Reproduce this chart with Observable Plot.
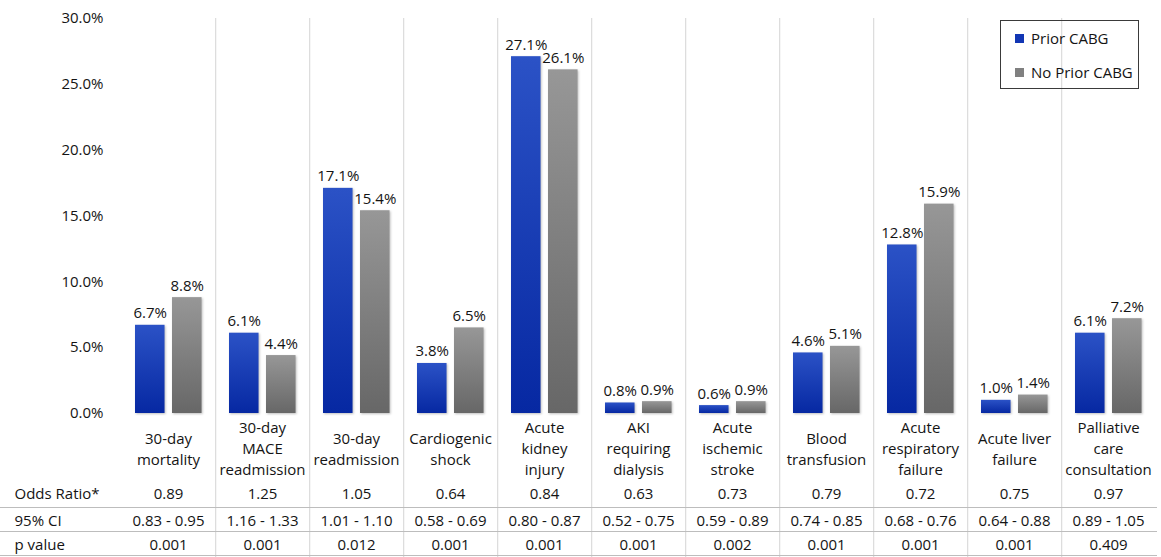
<!DOCTYPE html>
<html>
<head>
<meta charset="utf-8">
<script src="https://cdn.jsdelivr.net/npm/d3@7"></script>
<script src="https://cdn.jsdelivr.net/npm/@observablehq/plot@0.6"></script>
<style>
  body { margin: 0; background: #fff; }
  #wrap { position: relative; width: 1161px; height: 557px; font-family: "Open Sans", sans-serif; }
  #legend { position: absolute; left: 1000px; top: 20px; width: 139px; height: 69px; box-sizing: border-box;
            border: 1.5px solid #3a3a3a; font-size: 15px; color: #141414; }
  #legend .item { position: absolute; left: 14px; display: flex; align-items: center; white-space: nowrap; }
  #legend .sw { width: 9px; height: 9px; margin-right: 7px; }
  .bars rect { filter: drop-shadow(1px 1px 1px rgba(0,0,0,0.25)); }
</style>
</head>
<body>
<div id="wrap">
  <div id="chart"></div>
  <div id="legend">
    <div class="item" style="top:7px"><div class="sw" style="background:#1236b4"></div>Prior CABG</div>
    <div class="item" style="top:41px"><div class="sw" style="background:#808080"></div>No Prior CABG</div>
  </div>
</div>
<script>
const categories = [
  "30-day\nmortality",
  "30-day\nMACE\nreadmission",
  "30-day\nreadmission",
  "Cardiogenic\nshock",
  "Acute\nkidney\ninjury",
  "AKI\nrequiring\ndialysis",
  "Acute\nischemic\nstroke",
  "Blood\ntransfusion",
  "Acute\nrespiratory\nfailure",
  "Acute liver\nfailure",
  "Palliative\ncare\nconsultation"
];
const priorCABG   = [6.7, 6.1, 17.1, 3.8, 27.1, 0.8, 0.6, 4.6, 12.8, 1.0, 6.1];
const noPriorCABG = [8.8, 4.4, 15.4, 6.5, 26.1, 0.9, 0.9, 5.1, 15.9, 1.4, 7.2];
const oddsRatio = ["0.89","1.25","1.05","0.64","0.84","0.63","0.73","0.79","0.72","0.75","0.97"];
const ci95 = ["0.83 - 0.95","1.16 - 1.33","1.01 - 1.10","0.58 - 0.69","0.80 - 0.87","0.52 - 0.75","0.59 - 0.89","0.74 - 0.85","0.68 - 0.76","0.64 - 0.88","0.89 - 1.05"];
const pValue = ["0.001","0.001","0.012","0.001","0.001","0.001","0.002","0.001","0.001","0.001","0.409"];
const rowLabels = ["Odds Ratio*", "95% CI", "p value"];
const yTicks = [0, 5, 10, 15, 20, 25, 30];

const rows = categories.map((c, i) => ({cat: c, prior: priorCABG[i], noPrior: noPriorCABG[i], or: oddsRatio[i], ci: ci95[i], p: pValue[i]}));

const W = 1161, H = 557, mL = 118, mR = 4, mT = 18, mB = 144;
const bw = (W - mL - mR) / categories.length;
const barW = 30, padL = 14, gap = 7;
const blueL = padL, blueR = bw - padL - barW;
const grayL = padL + barW + gap, grayR = bw - grayL - barW;
const blueC = padL + barW / 2 - bw / 2, grayC = grayL + barW / 2 - bw / 2;

function defs() {
  const ns = "http://www.w3.org/2000/svg";
  const d = document.createElementNS(ns, "defs");
  const mk = (id, c0, c1) => {
    const g = document.createElementNS(ns, "linearGradient");
    g.setAttribute("id", id); g.setAttribute("x1", "0"); g.setAttribute("y1", "0"); g.setAttribute("x2", "0"); g.setAttribute("y2", "1");
    [[0, c0], [1, c1]].forEach(([o, c]) => {
      const s = document.createElementNS(ns, "stop");
      s.setAttribute("offset", o); s.setAttribute("stop-color", c); g.appendChild(s);
    });
    d.appendChild(g);
  };
  mk("gBlue", "#2b52c6", "#0628a2");
  mk("gGray", "#979797", "#676767");
  return d;
}

const textColor = "#141414";
const plot = Plot.plot({
  width: W, height: H,
  marginLeft: mL, marginRight: mR, marginTop: mT, marginBottom: mB,
  style: {fontFamily: "'Open Sans', sans-serif", fontSize: "15px", color: textColor, background: "#fff"},
  x: {type: "band", domain: categories, padding: 0, axis: null},
  y: {domain: [0, 30], axis: null},
  marks: [
    defs,
    Plot.ruleX(categories.slice(0, -1), {x: d => d, dx: bw / 2, stroke: "#d4d4d4", strokeWidth: 1, insetBottom: -mB}),
    Plot.ruleY([0], {dy: 94, insetLeft: -mL, stroke: "#bdbdbd"}),
    Plot.ruleY([0], {dy: 118, insetLeft: -mL, stroke: "#bdbdbd"}),
    Plot.ruleY([0], {dy: 142, insetLeft: -mL, stroke: "#bdbdbd"}),
    Plot.barY(rows, {x: "cat", y: "prior", fill: "url(#gBlue)", insetLeft: blueL, insetRight: blueR, className: "bars"}),
    Plot.barY(rows, {x: "cat", y: "noPrior", fill: "url(#gGray)", insetLeft: grayL, insetRight: grayR, className: "bars"}),
    Plot.text(rows, {x: "cat", y: "prior", text: d => d.prior.toFixed(1) + "%", dx: blueC, dy: -7, lineAnchor: "bottom", fill: textColor}),
    Plot.text(rows, {x: "cat", y: "noPrior", text: d => d.noPrior.toFixed(1) + "%", dx: grayC, dy: -7, lineAnchor: "bottom", fill: textColor}),
    Plot.axisY({ticks: yTicks, tickSize: 0, tickPadding: 15, tickFormat: d => d.toFixed(1) + "%", fontSize: 15, fill: textColor}),
    Plot.text(rows, {x: "cat", text: "cat", frameAnchor: "bottom", dy: 34, lineAnchor: "middle", lineHeight: 1.4, fill: textColor}),
    Plot.text(rows, {x: "cat", text: "or", frameAnchor: "bottom", dy: 81, lineAnchor: "middle", fill: textColor}),
    Plot.text(rows, {x: "cat", text: "ci", frameAnchor: "bottom", dy: 108, lineAnchor: "middle", fill: textColor}),
    Plot.text(rows, {x: "cat", text: "p", frameAnchor: "bottom", dy: 132, lineAnchor: "middle", fill: textColor}),
    Plot.text([rowLabels[0]], {frameAnchor: "bottom-left", dx: -104, dy: 81, textAnchor: "start", lineAnchor: "middle", fill: textColor}),
    Plot.text([rowLabels[1]], {frameAnchor: "bottom-left", dx: -104, dy: 108, textAnchor: "start", lineAnchor: "middle", fill: textColor}),
    Plot.text([rowLabels[2]], {frameAnchor: "bottom-left", dx: -104, dy: 132, textAnchor: "start", lineAnchor: "middle", fill: textColor})
  ]
});
document.getElementById("chart").appendChild(plot);
</script>
</body>
</html>
